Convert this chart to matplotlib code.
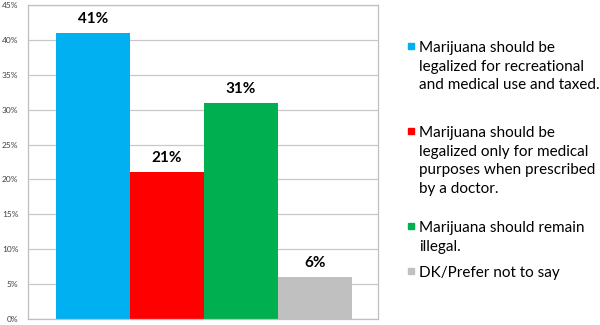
import matplotlib
matplotlib.use("Agg")
import matplotlib.pyplot as plt
from matplotlib.patches import Rectangle
from matplotlib.ticker import FuncFormatter

categories = [
    "Marijuana should be\nlegalized for recreational\nand medical use and taxed.",
    "Marijuana should be\nlegalized only for medical\npurposes when prescribed\nby a doctor.",
    "Marijuana should remain\nillegal.",
    "DK/Prefer not to say",
]
values = [41, 21, 31, 6]
colors = ["#00B0F0", "#FF0000", "#00B050", "#C0C0C0"]

plt.rcParams['font.family'] = ['Lato', 'DejaVu Sans']

fig = plt.figure(figsize=(6, 3.25), dpi=100)
ax = fig.add_axes([28 / 600, 6 / 325, 350 / 600, 314 / 325])

x = list(range(len(values)))
ax.bar(x, values, width=1.0, color=colors, zorder=2)
for xi, v in zip(x, values):
    ax.text(xi, v + 1.0, f"{v}%", ha="center", va="bottom",
            fontsize=11, fontweight="bold", color="black", zorder=3)

ax.set_xlim(-0.878, 3.85)
ax.set_ylim(0, 45)
ax.set_yticks(range(0, 46, 5))
ax.yaxis.set_major_formatter(FuncFormatter(lambda v, p: f"{int(v)}%"))
ax.tick_params(axis="y", length=0, pad=7, labelsize=6, labelcolor="#404040")
ax.set_xticks([])
ax.grid(axis="y", color="#C8C8C8", linewidth=0.9, zorder=0)
for s in ax.spines.values():
    s.set_color("#BFBFBF")
    s.set_linewidth(0.9)

# legend drawn by hand to match the stacked wrapped layout
entry_y = [48, 133, 228, 273]
for label, col, y in zip(categories, colors, entry_y):
    fig.patches.append(Rectangle((408 / 600, 1 - (y + 1) / 325), 6 / 600, 6 / 325,
                                 transform=fig.transFigure, color=col))
    fig.text(419 / 600, 1 - (y - 7) / 325, label, ha="left", va="top",
             fontsize=11, linespacing=1.42, color="black")

fig.savefig("out.png", dpi=100)
